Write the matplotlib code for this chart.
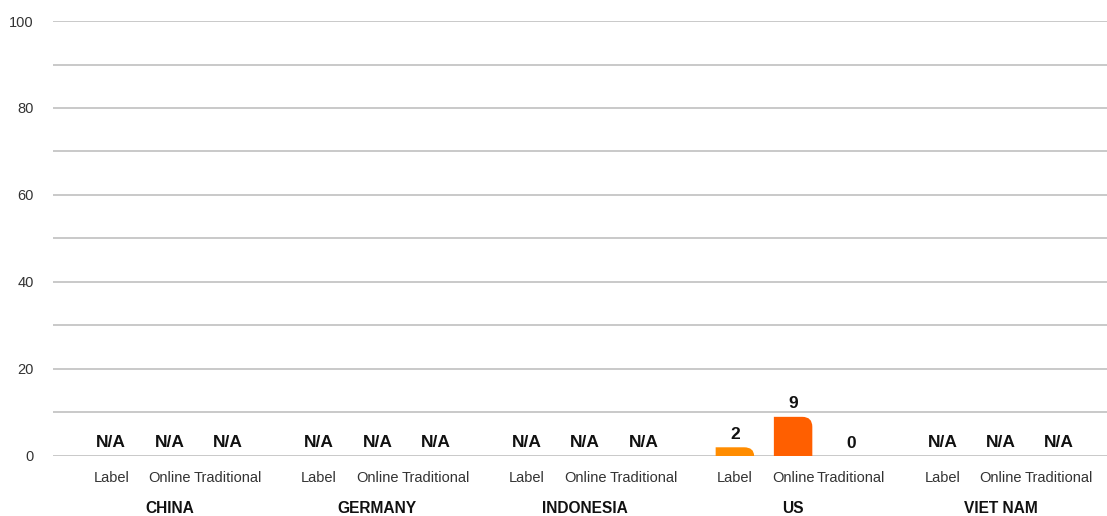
import matplotlib
matplotlib.use("Agg")
import matplotlib.pyplot as plt
from matplotlib.path import Path
from matplotlib.patches import PathPatch
import numpy as np

# data
countries = ["CHINA", "GERMANY", "INDONESIA", "US", "VIET NAM"]
channels = ["Label", "Online", "Traditional"]
china = [None, None, None]
germany = [None, None, None]
indonesia = [None, None, None]
us = [2, 9, 0]
viet_nam = [None, None, None]
values = [china, germany, indonesia, us, viet_nam]
colors = ["#FF8C00", "#FF5F00", "#E03C00"]
y_ticks = [0, 20, 40, 60, 80, 100]

plt.rcParams["font.family"] = ["Liberation Sans", "DejaVu Sans"]

fig = plt.figure(figsize=(11.07, 5.16), dpi=100)
ax = fig.add_axes([0.0479, 0.1163, 0.9521, 0.843])

offsets = np.array([-0.28, 0.0, 0.28])
bar_w = 0.185
ax.set_xlim(-0.56, 4.51)
ax.set_ylim(0, 100)

# grid
for g in range(0, 101, 10):
  ax.axhline(g, color="#c0c0c0", lw=1.2, zorder=0)

# size of a 10 px corner in data units
p0 = ax.transData.transform((0, 0))
p1 = ax.transData.transform((1, 1))
rx = 10 / (p1[0] - p0[0])
ry_full = 10 / (p1[1] - p0[1])

tick_pos = []
tick_lab = []
for i, vals in enumerate(values):
  for j, v in enumerate(vals):
    x = i + offsets[j]
    tick_pos.append(x)
    tick_lab.append(channels[j])
    if v is None:
      ax.annotate("N/A", (x, 0), xytext=(0, 9.6), textcoords="offset points",
                  ha="center", va="center", fontsize=12.5, fontweight="bold", color="#111111")
      continue
    bars = ax.bar([x], [v], width=bar_w, color=colors[j])
    for b in bars:
      x0, w, h = b.get_x(), b.get_width(), b.get_height()
      b.remove()
      if h > 0:
        x1 = x0 + w
        r_x = min(rx, w / 2)
        r_y = min(ry_full, h)
        verts = [(x0, 0), (x0, h), (x1 - r_x, h), (x1, h), (x1, h - r_y), (x1, 0), (x0, 0)]
        codes = [Path.MOVETO, Path.LINETO, Path.LINETO, Path.CURVE3, Path.CURVE3,
                 Path.LINETO, Path.CLOSEPOLY]
        ax.add_patch(PathPatch(Path(verts, codes), facecolor=colors[j], edgecolor="none", zorder=2))
    ax.annotate(str(v), (x, v), xytext=(0, 9.3), textcoords="offset points",
                ha="center", va="center", fontsize=12.5, fontweight="bold", color="#111111")

ax.set_xticks(tick_pos, tick_lab)
ax.set_yticks(y_ticks)
ax.tick_params(axis="x", length=0, pad=10.5, labelsize=10.5, labelcolor="#333333")
ax.tick_params(axis="y", length=0, pad=14, labelsize=10.5, labelcolor="#333333")
for s in ax.spines.values():
  s.set_visible(False)

for i, c in enumerate(countries):
  ax.text(i, -0.1215, c, transform=ax.get_xaxis_transform(), ha="center", va="center",
          fontsize=11.2, fontweight="bold", color="#111111")

fig.savefig("out.png", dpi=100)
